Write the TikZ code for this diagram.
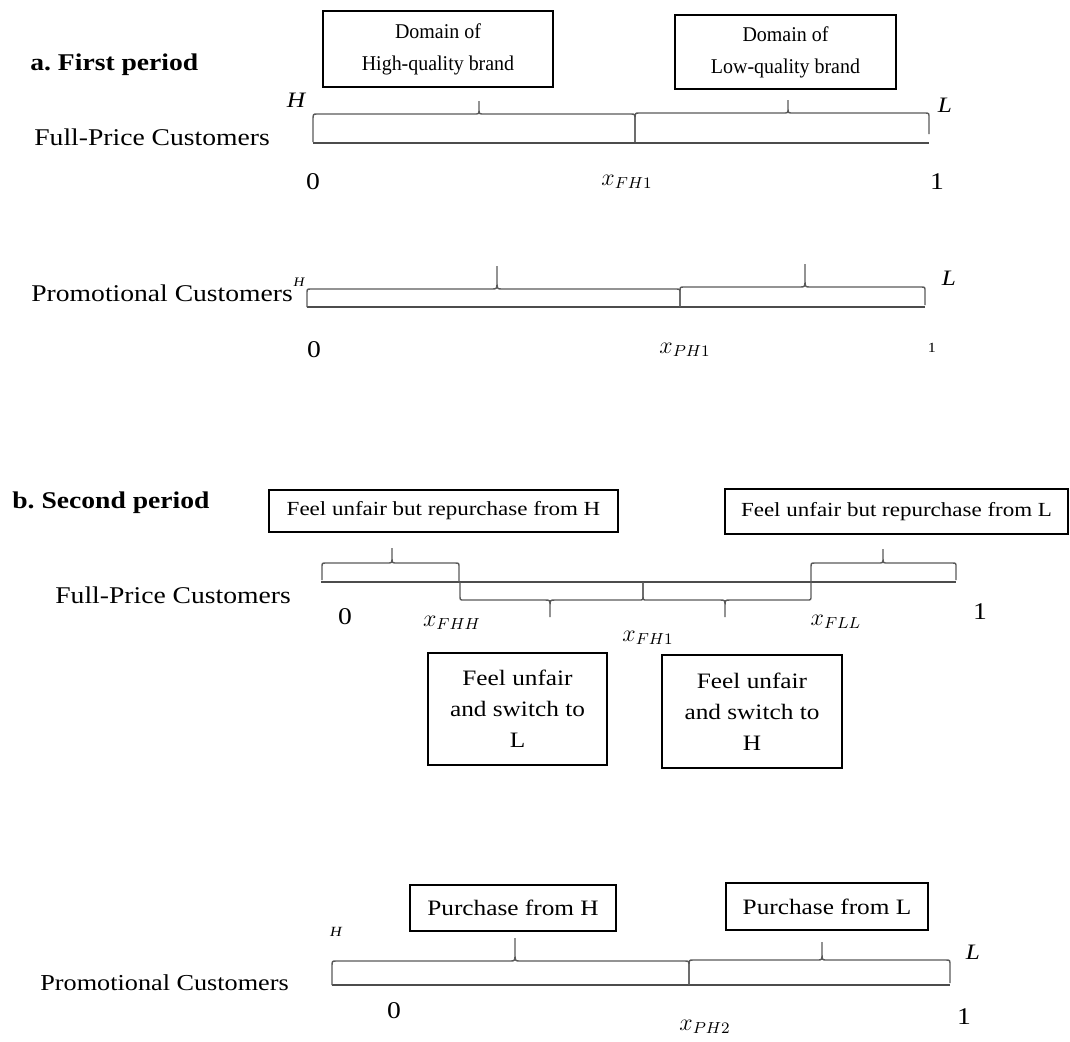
\documentclass[tikz,border=0pt]{standalone}
\usepackage{amsmath}
\usepackage{fontspec}
\setmainfont{Liberation Serif}[FakeStretch=1.15]
\usepackage{tikz}
\frenchspacing

% bracket over a segment: x1,y1, x2,y2 (leg ends), bar y, tip x, tip y
\newcommand{\segbrace}[7]{%
	\draw[brk] (#1,#2) -- (#1,{#5+0.25*(#2-#5)}) .. controls (#1,#5) .. (#1+4,#5)
		-- (#6-5,#5) .. controls (#6,#5) .. (#6,{#5+0.35*(#7-#5)}) -- (#6,#7)
		(#6,{#5+0.35*(#7-#5)}) .. controls (#6,#5) .. (#6+5,#5)
		-- (#3-4,#5) .. controls (#3,#5) .. (#3,{#5+0.25*(#4-#5)}) -- (#3,#4);}

\begin{document}
\begin{tikzpicture}[x=0.5pt, y=-0.5pt,
		brk/.style={black!65, line width=0.7pt},
		axis/.style={black!70, line width=0.8pt},
		box/.style={draw, line width=0.8pt, inner sep=0pt, align=center},
		title/.style={inner sep=0pt, anchor=west, font=\bfseries\fontsize{12}{14}\selectfont},
		lab/.style={inner sep=0pt, anchor=west, font=\fontsize{12}{14}\selectfont},
		num/.style={inner sep=0pt, font=\fontsize{12}{14}\selectfont},
		brand/.style={inner sep=0pt, font=\itshape\fontsize{11}{13}\selectfont},
		domainbox/.style={box, font=\fontsize{10.5}{16}\selectfont\addfontfeatures{FakeStretch=0.95}}]
		\useasboundingbox (0,0) rectangle (1070,1041);

		% a. first period, full-price
		\node[title] (ta) at (30,65) {a. First period};
		\node[domainbox, minimum width=115pt, minimum height=38pt] (domH) at (438,49) {Domain of\\High-quality brand};
		\node[domainbox, minimum width=110.5pt, minimum height=37pt] (domL) at (785.5,52) {Domain of\\Low-quality brand};
		\node[lab] (fpa) at (34,137) {Full-Price Customers};
		\node[brand] (ha) at (296,100) {H};
		\node[brand] (la) at (945,105) {L};
		\coordinate (fa0) at (313,143);
		\coordinate (fa1) at (929,143);
		\draw[axis] (fa0) -- (fa1);
		\segbrace{313}{142}{635}{142}{114}{479}{101}
		\segbrace{635}{142}{929}{134}{113}{788}{100}
		\node[num] (za) at (313,182) {0};
		\node[num] (xfa) at (627,182) {$x_{FH1}$};
		\node[num] (oa) at (937,182) {1};

		% a. first period, promotional
		\node[lab] (ppa) at (31,293) {Promotional Customers};
		\node[brand, font=\itshape\fontsize{6.5}{8}\selectfont] (hpa) at (299,282) {H};
		\node[brand] (lpa) at (949,278) {L};
		\coordinate (pa0) at (307,307);
		\coordinate (pa1) at (925,307);
		\draw[axis] (pa0) -- (pa1);
		\segbrace{307}{307}{680}{307}{289}{497}{266}
		\segbrace{680}{307}{925}{305}{287}{805}{264}
		\node[num] (zpa) at (314,350) {0};
		\node[num] (xpa) at (685,350) {$x_{PH1}$};
		\node[num, font=\fontsize{7}{8}\selectfont] (opa) at (932,348) {1};

		% b. second period, full-price
		\node[title] (tb) at (12,503) {b. Second period};
		\node[box, minimum width=174.5pt, minimum height=21pt, font=\fontsize{10}{12}\selectfont] (repH) at (443.5,511) {Feel unfair but repurchase from H};
		\node[box, minimum width=171.5pt, minimum height=22.5pt, font=\fontsize{10}{12}\selectfont] (repL) at (896.5,511.5) {Feel unfair but repurchase from L};
		\node[lab] (fpb) at (55,595) {Full-Price Customers};
		\coordinate (fb0) at (321,582);
		\coordinate (fb1) at (956,582);
		\draw[axis] (fb0) -- (fb1);
		\segbrace{322}{580}{459}{582}{563}{392}{548}
		\segbrace{811}{582}{956}{580}{563}{883}{549}
		\segbrace{460}{582}{643}{582}{600}{550}{617}
		\segbrace{643}{582}{811}{582}{600}{725}{617}
		\node[num] (zb) at (345,617) {0};
		\node[num] (xhh) at (452,623) {$x_{FHH}$};
		\node[num] (xfb) at (648,638) {$x_{FH1}$};
		\node[num] (xll) at (836,622) {$x_{FLL}$};
		\node[num] (ob) at (980,612) {1};
		\node[box, minimum width=89.5pt, minimum height=56pt, font=\fontsize{11}{15.5}\selectfont] (swL) at (517.5,709) {Feel unfair\\and switch to\\L};
		\node[box, minimum width=90pt, minimum height=56.5pt, font=\fontsize{11}{15.5}\selectfont] (swH) at (752,711.5) {Feel unfair\\and switch to\\H};

		% b. second period, promotional
		\node[box, minimum width=103pt, minimum height=23pt, font=\fontsize{11}{13}\selectfont] (buyH) at (513,908) {Purchase from H};
		\node[box, minimum width=101pt, minimum height=23.5pt, font=\fontsize{11}{13}\selectfont] (buyL) at (827,906.5) {Purchase from L};
		\node[lab, font=\fontsize{11.4}{13}\selectfont] (ppb) at (40,983) {Promotional Customers};
		\node[brand, font=\itshape\fontsize{7}{8}\selectfont] (hpb) at (336,932) {H};
		\node[brand] (lpb) at (973,952) {L};
		\coordinate (pb0) at (332,985);
		\coordinate (pb1) at (950,985);
		\draw[axis] (pb0) -- (pb1);
		\segbrace{332}{985}{689}{985}{961}{515}{938}
		\segbrace{689}{985}{950}{983}{960}{822}{942}
		\node[num] (zpb) at (394,1011) {0};
		\node[num] (xpb) at (705,1027) {$x_{PH2}$};
		\node[num] (opb) at (964,1017) {1};
	\end{tikzpicture}
\end{document}
